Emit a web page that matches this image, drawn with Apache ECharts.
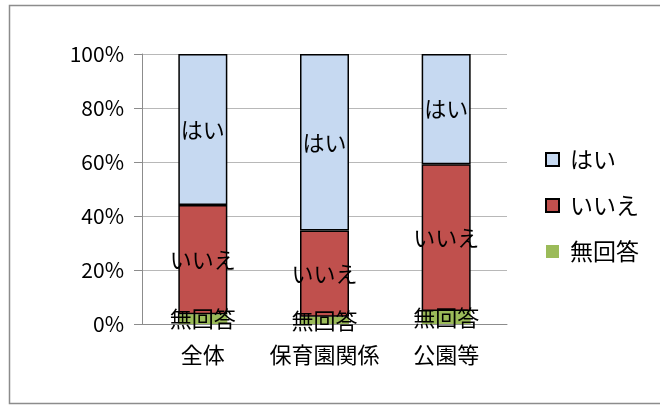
<!DOCTYPE html>
<html>
<head>
<meta charset="utf-8">
<script src="https://cdn.jsdelivr.net/npm/echarts@6/dist/echarts.min.js"></script>
<style>
  html, body { margin: 0; padding: 0; background: #fff; }
  #chart { width: 660px; height: 405px; }
</style>
</head>
<body>
<div id="chart"></div>
<script>
const categories = ["全体", "保育園関係", "公園等"];
const seriesNames = ["無回答", "いいえ", "はい"];
const noAnswer = [3.6, 2.7, 4.8];
const no = [40.5, 31.9, 54.4];
const yes = [55.9, 65.4, 40.8];
const yTicks = [0, 20, 40, 60, 80, 100];

const FONT = "'Noto Sans CJK JP', sans-serif";

function showStackChart() {
  const chartDom = document.getElementById("chart");
  const myChart = echarts.init(chartDom);
  const segLabel = {
    show: true,
    position: "inside",
    formatter: "{a}",
    color: "#000",
    fontSize: 22,
    fontFamily: FONT,
  };
  const option = {
    backgroundColor: "#fff",
    animation: false,
    graphic: [
      {
        type: "rect",
        shape: { x: 9.5, y: 5.5, width: 700, height: 398 },
        style: { fill: "none", stroke: "#8c8c8c", lineWidth: 1.5 },
        silent: true,
      },
    ],
    grid: { left: 142, right: 153, top: 54, bottom: 81 },
    legend: {
      orient: "vertical",
      left: 540,
      top: 143,
      icon: "rect",
      itemWidth: 13,
      itemHeight: 13,
      itemGap: 23,
      data: [
        { name: "はい", itemStyle: { borderColor: "#000", borderWidth: 2 } },
        { name: "いいえ", itemStyle: { borderColor: "#000", borderWidth: 2 } },
        { name: "無回答" },
      ],
      textStyle: { fontSize: 23, fontFamily: FONT, color: "#000", padding: [0, 0, 0, 6] },
    },
    xAxis: {
      type: "category",
      data: categories,
      axisLine: { lineStyle: { color: "#8c8c8c", width: 1 } },
      axisTick: { length: 8, lineStyle: { color: "#8c8c8c" } },
      axisLabel: { color: "#000", fontSize: 22, fontFamily: FONT, margin: 20, interval: 0 },
    },
    yAxis: {
      type: "value",
      min: yTicks[0],
      max: yTicks[yTicks.length - 1],
      interval: yTicks[1] - yTicks[0],
      axisLine: { show: true, lineStyle: { color: "#8c8c8c", width: 1 } },
      axisTick: { show: true, length: 8, lineStyle: { color: "#8c8c8c" } },
      axisLabel: {
        color: "#000",
        fontSize: 21,
        fontFamily: FONT,
        margin: 18,
        formatter: "{value}%",
      },
      splitLine: { lineStyle: { color: "#b8b8b8", width: 1 } },
    },
    series: [
      {
        name: seriesNames[0],
        type: "bar",
        stack: "total",
        barWidth: 49,
        data: noAnswer,
        itemStyle: { color: "#9BBB59" },
        label: segLabel,
      },
      {
        name: seriesNames[1],
        type: "bar",
        stack: "total",
        data: no,
        itemStyle: { color: "#C0504D", borderColor: "#000", borderWidth: 1.5 },
        label: segLabel,
      },
      {
        name: seriesNames[2],
        type: "bar",
        stack: "total",
        data: yes,
        itemStyle: { color: "#C6D9F1", borderColor: "#000", borderWidth: 1.5 },
        label: segLabel,
      },
    ],
  };
  myChart.setOption(option);
}

showStackChart();
</script>
</body>
</html>
